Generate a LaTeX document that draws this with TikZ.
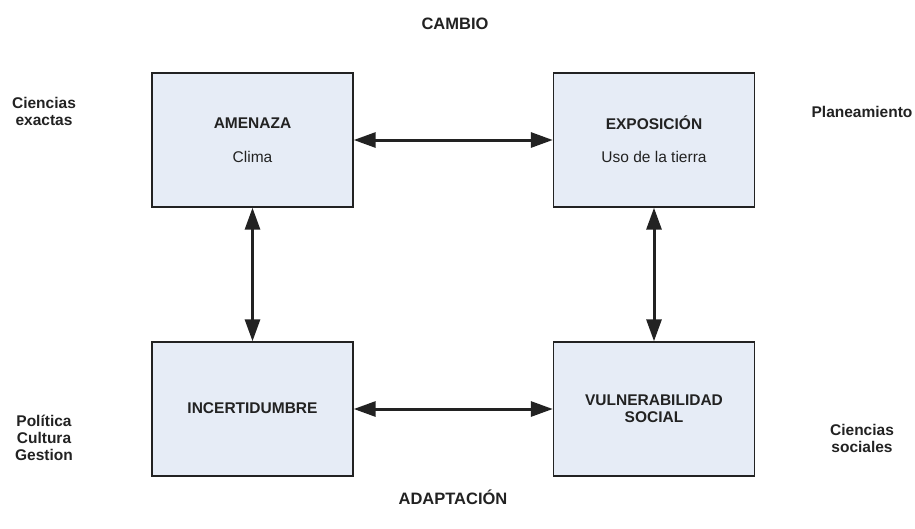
\documentclass[tikz,border=0pt]{standalone}
\usepackage{fontspec}
\setmainfont{Liberation Sans}
\usetikzlibrary{arrows.meta}
\definecolor{boxfill}{HTML}{E6ECF6}
\definecolor{ink}{HTML}{222222}
\begin{document}
\begin{tikzpicture}[x=1pt,y=-1pt,
  box/.style={draw=ink,line width=1.4pt,fill=boxfill,minimum width=201pt,minimum height=134pt,inner sep=0pt},
  title/.style={text=ink,font=\fontsize{15.5}{17}\selectfont\bfseries},
  sub/.style={text=ink,font=\fontsize{15.5}{17}\selectfont},
  lbl/.style={text=ink,align=center,font=\fontsize{15.5}{17}\selectfont\bfseries},
  head/.style={text=ink,font=\fontsize{16.5}{19}\selectfont\bfseries},
  link/.style={draw=ink,line width=3pt,{Triangle[length=22pt,width=15pt]}-{Triangle[length=22pt,width=15pt]}}]
\useasboundingbox (0,0) rectangle (915,528);
\node[box] (am) at (252.5,140) {};
\node[box] (ex) at (654,140) {};
\node[box] (in) at (252.5,409) {};
\node[box] (vu) at (654,409) {};
\node[title] (amt) at (252.5,123) {AMENAZA};
\node[sub] (amc) at (252.5,157) {Clima};
\node[title] (ext) at (654,123) {EXPOSICIÓN};
\node[sub] (exc) at (654,157) {Uso de la tierra};
\node[lbl] (int) at (252.5,408) {INCERTIDUMBRE};
\node[lbl] (vut) at (654,409) {VULNERABILIDAD\\SOCIAL};
\draw[link] (am.east) -- (ex.west);
\draw[link] (in.east) -- (vu.west);
\draw[link] (am.south) -- (in.north);
\draw[link] (ex.south) -- (vu.north);
\node[head] (cambio) at (455,24) {CAMBIO};
\node[head] (adapt) at (453,497) {ADAPTACIÓN};
\node[lbl] (ce) at (44,111) {Ciencias\\exactas};
\node[lbl] (pl) at (862,112) {Planeamiento};
\node[lbl] (po) at (44,438) {Política\\Cultura\\Gestion};
\node[lbl] (cs) at (862,438) {Ciencias\\sociales};
\end{tikzpicture}
\end{document}
